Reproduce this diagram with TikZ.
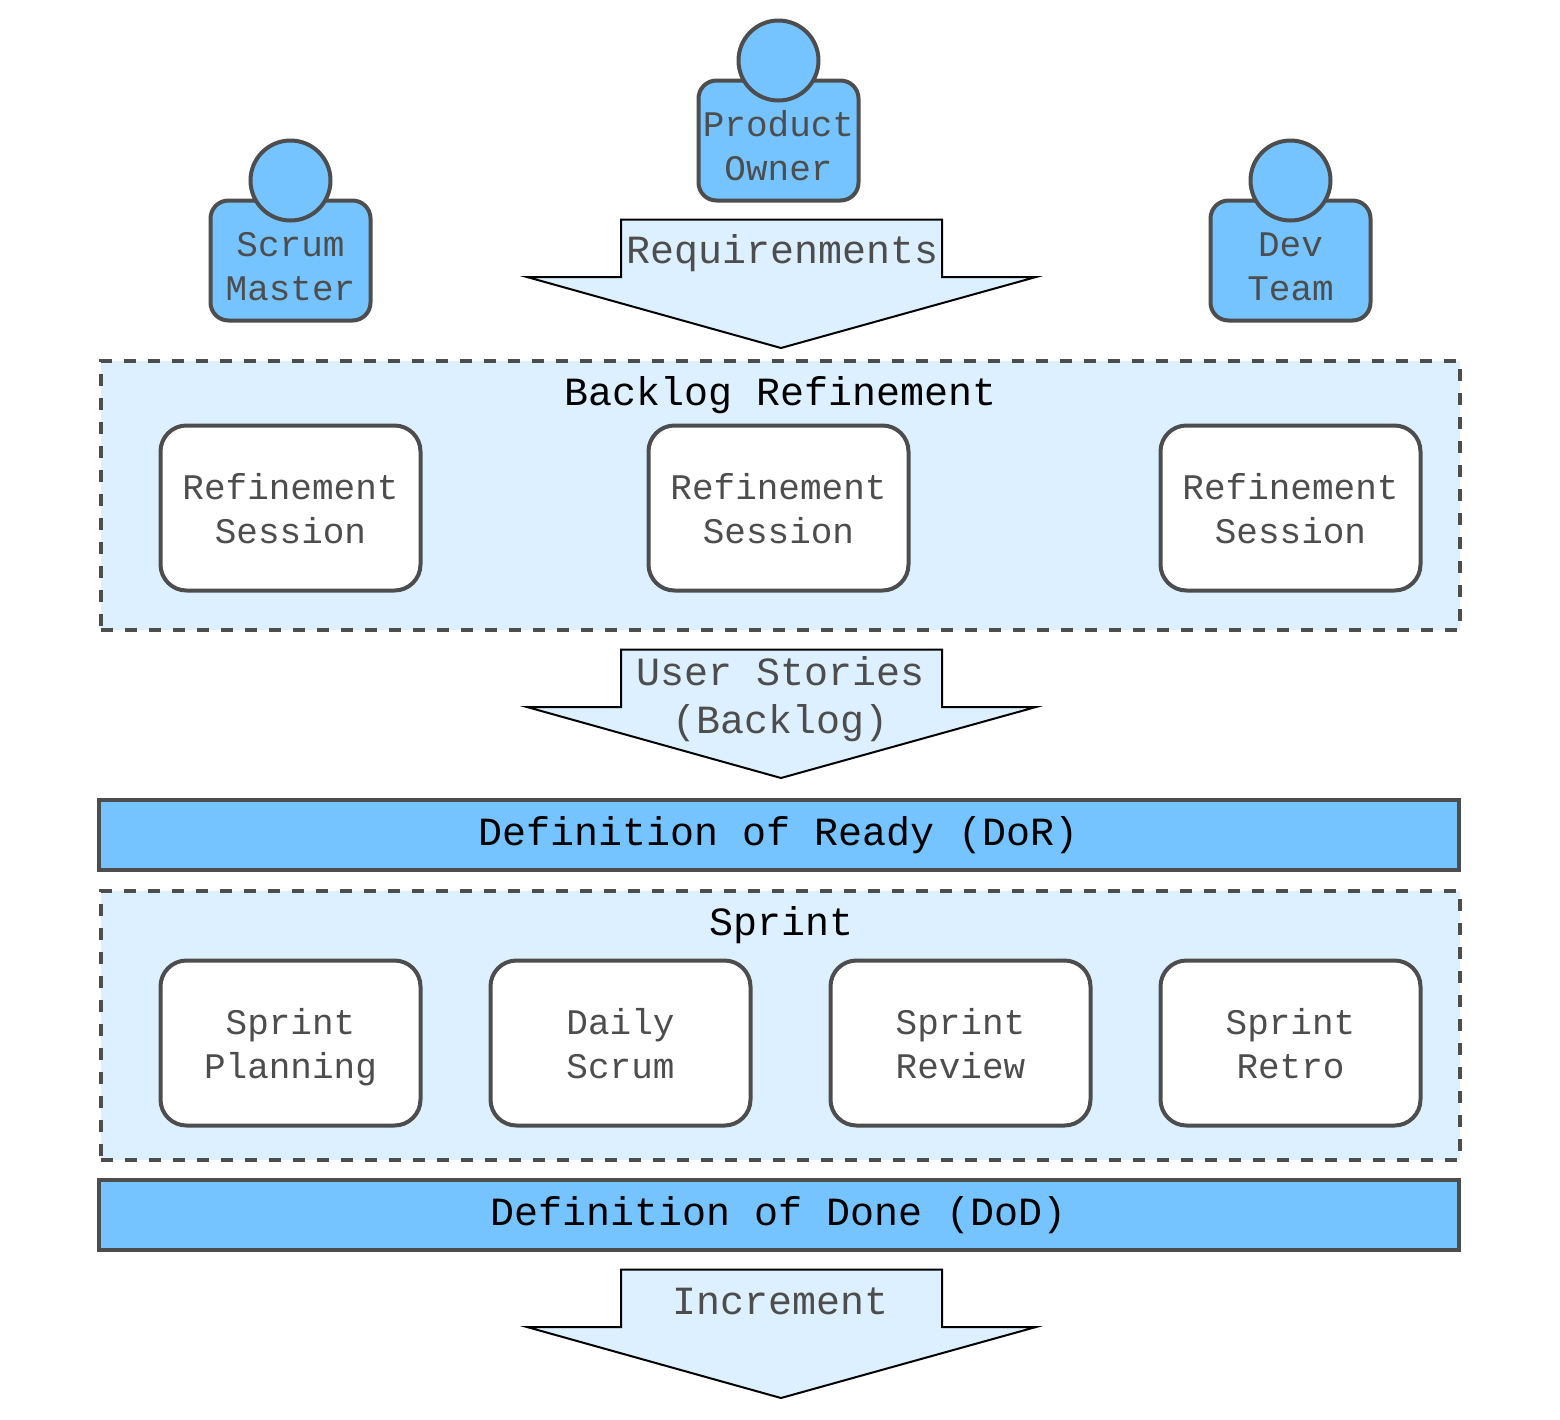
\documentclass[tikz,border=0pt]{standalone}
\usepackage{fontspec}
\setmainfont{Liberation Mono}
\definecolor{edge}{HTML}{4D4D4D}
\definecolor{blue}{HTML}{75C4FF}
\definecolor{pale}{HTML}{DDF0FF}
\newcommand{\twolines}[2]{\rule{0pt}{19.5pt}#1\\#2\rule[-6pt]{0pt}{6pt}}
\tikzset{
  x=0.5pt,y=-0.5pt,
  panel/.style={draw=edge,fill=pale,line width=2pt,dash pattern=on 6pt off 6pt,rectangle,inner sep=0pt,minimum width=679.5pt,minimum height=134.5pt},
  bar/.style={draw=edge,fill=blue,line width=2pt,rectangle,inner sep=0pt,minimum width=680pt,minimum height=35pt,text=black,font=\fontsize{20}{24}\selectfont},
  session/.style={draw=edge,fill=white,line width=2pt,rounded corners=13pt,inner sep=0pt,minimum width=130pt,minimum height=82.5pt,align=center,text=edge,font=\fontsize{18}{22}\selectfont},
  body/.style={draw=edge,fill=blue,line width=2pt,rounded corners=9pt,inner sep=0pt,minimum width=80pt,minimum height=60pt},
  head/.style={draw=edge,fill=blue,line width=2pt,circle,inner sep=0pt,minimum size=40pt},
  persontext/.style={align=center,inner sep=0pt,text=edge,font=\fontsize{18}{22}\selectfont},
  flow/.style={draw=black,fill=pale,line width=1pt,line join=miter},
  flowtext/.style={align=center,inner sep=0pt,text=edge,font=\fontsize{20}{24}\selectfont},
  paneltitle/.style={inner sep=0pt,text=black,font=\fontsize{20}{24}\selectfont},
}
\newcommand{\flowarrow}[1]{%
  \draw[flow] (621,#1+0.5) -- (942,#1+0.5) -- (942,#1+58) -- (1036,#1+58) -- (781,#1+129) -- (527,#1+58) -- (621,#1+58) -- cycle;}
\begin{document}
\begin{tikzpicture}
\path[use as bounding box,fill=white] (0,0) rectangle (1560,1420);
% actors
\node[body] (smb) at (290.5,260.5) {};
\node[head] (smh) at (290.5,180.5) {};
\node[persontext] (smt) at (290.5,267) {Scrum\\Master};
\node[body] (pob) at (778.5,140.5) {};
\node[head] (poh) at (778.5,60.5) {};
\node[persontext] (pot) at (778.5,146) {Product\\Owner};
\node[body] (dtb) at (1290.5,260.5) {};
\node[head] (dth) at (1290.5,180.5) {};
\node[persontext] (dtt) at (1290.5,267) {Dev\\Team};
% requirement arrow
\flowarrow{219}
\node[flowtext] (req) at (782.5,253) {Requirenments};
% backlog
\node[panel] (backlog) at (780.5,495.5) {};
\node[paneltitle] (backlogt) at (781,395) {Backlog Refinement};
\node[session] (r1) at (290.5,508) {\twolines{Refinement}{Session}};
\node[session] (r2) at (778.5,508) {\twolines{Refinement}{Session}};
\node[session] (r3) at (1290.5,508) {\twolines{Refinement}{Session}};
% stories
\flowarrow{649}
\node[flowtext] (us) at (781,699) {User Stories\\(Backlog)};
% DoR
\node[bar] (dor) at (778.5,835) {Definition of Ready (DoR)};
% sprint
\node[panel] (sprint) at (780.5,1025.5) {};
\node[paneltitle] (sprintt) at (782,925) {Sprint};
\node[session] (s1) at (290.5,1043) {\twolines{Sprint}{Planning}};
\node[session] (s2) at (620.5,1043) {\twolines{Daily}{Scrum}};
\node[session] (s3) at (960.5,1043) {\twolines{Sprint}{Review}};
\node[session] (s4) at (1290.5,1043) {\twolines{Sprint}{Retro}};
% DoD
\node[bar] (dod) at (778.5,1215) {Definition of Done (DoD)};
% increment
\flowarrow{1269}
\node[flowtext] (inc) at (780.5,1301) {Increment};
\end{tikzpicture}
\end{document}
